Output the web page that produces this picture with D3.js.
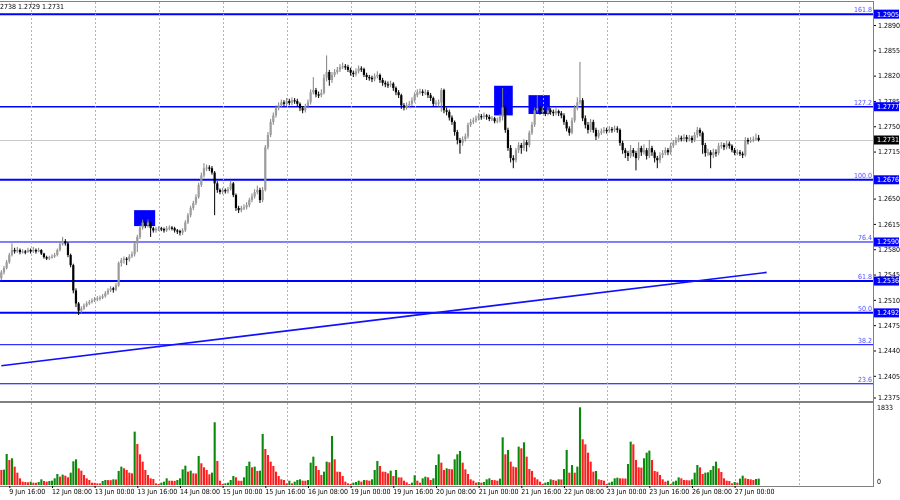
<!DOCTYPE html>
<html>
<head>
<meta charset="utf-8">
<script src="https://cdn.jsdelivr.net/npm/d3@7"></script>
<style>
  body { margin: 0; background: #fff; }
  svg text { font-family: "Liberation Sans Narrow", "DejaVu Sans Condensed", "Liberation Sans", sans-serif; font-size: 7px; }
</style>
</head>
<body>
<svg id="chart" width="900" height="500"></svg>
<script>
// H1 candles, 9 Jun 13:00 .. 27 Jun 09:00 (bar index 0..284)
const opens = [
  1.2540,1.2548,1.2554,1.2562,1.2572,1.2579,1.2577,1.2579,1.2576,1.2577,1.2576,1.2579,
  1.2577,1.2579,1.2577,1.2579,1.2574,1.2569,1.2567,1.2569,1.2570,1.2572,1.2579,1.2587,
  1.2591,1.2588,1.2572,1.2558,1.2523,1.2505,1.2495,1.2498,1.2502,1.2505,1.2507,1.2509,
  1.2511,1.2512,1.2513,1.2515,1.2519,1.2523,1.2526,1.2524,1.2530,1.2561,1.2565,1.2567,
  1.2566,1.2570,1.2573,1.2588,1.2597,1.2610,1.2617,1.2613,1.2617,1.2609,1.2606,1.2608,
  1.2609,1.2608,1.2606,1.2609,1.2610,1.2609,1.2606,1.2605,1.2603,1.2606,1.2617,1.2627,
  1.2637,1.2644,1.2652,1.2669,1.2682,1.2692,1.2693,1.2692,1.2686,1.2671,1.2662,1.2659,
  1.2662,1.2660,1.2663,1.2671,1.2655,1.2637,1.2634,1.2637,1.2638,1.2641,1.2648,1.2653,
  1.2659,1.2662,1.2648,1.2662,1.2721,1.2738,1.2756,1.2765,1.2775,1.2779,1.2783,1.2781,
  1.2785,1.2782,1.2786,1.2785,1.2781,1.2775,1.2772,1.2778,1.2783,1.2797,1.2800,1.2794,
  1.2793,1.2796,1.2817,1.2825,1.2814,1.2821,1.2825,1.2828,1.2832,1.2833,1.2832,1.2828,
  1.2824,1.2822,1.2826,1.2830,1.2829,1.2821,1.2818,1.2817,1.2815,1.2819,1.2821,1.2814,
  1.2810,1.2808,1.2807,1.2809,1.2803,1.2797,1.2793,1.2779,1.2776,1.2779,1.2781,1.2786,
  1.2793,1.2797,1.2798,1.2796,1.2797,1.2793,1.2789,1.2781,1.2782,1.2783,1.2800,1.2772,
  1.2770,1.2762,1.2756,1.2742,1.2731,1.2727,1.2732,1.2736,1.2752,1.2756,1.2758,1.2761,
  1.2764,1.2763,1.2765,1.2763,1.2760,1.2761,1.2757,1.2758,1.2763,1.2776,1.2745,1.2720,
  1.2706,1.2703,1.2717,1.2724,1.2720,1.2728,1.2724,1.2741,1.2752,1.2772,1.2775,1.2770,
  1.2772,1.2768,1.2772,1.2770,1.2768,1.2771,1.2768,1.2765,1.2756,1.2747,1.2741,1.2758,
  1.2775,1.2783,1.2786,1.2761,1.2752,1.2745,1.2756,1.2745,1.2736,1.2741,1.2743,1.2745,
  1.2744,1.2746,1.2745,1.2747,1.2745,1.2727,1.2717,1.2713,1.2709,1.2717,1.2713,1.2706,
  1.2720,1.2714,1.2717,1.2709,1.2720,1.2714,1.2706,1.2703,1.2710,1.2713,1.2717,1.2714,
  1.2723,1.2727,1.2731,1.2734,1.2732,1.2735,1.2732,1.2734,1.2731,1.2738,1.2745,1.2741,
  1.2724,1.2713,1.2714,1.2710,1.2714,1.2713,1.2723,1.2724,1.2721,1.2726,1.2723,1.2717,
  1.2713,1.2714,1.2712,1.2710,1.2731,1.2729,1.2731,1.2732,1.2734
];
const highs = [
  1.2551,1.2557,1.2565,1.2575,1.2588,1.2582,1.2583,1.2581,1.2580,1.2579,1.2582,1.2581,
  1.2583,1.2581,1.2582,1.2580,1.2575,1.2571,1.2571,1.2573,1.2575,1.2581,1.2590,1.2597,
  1.2594,1.2590,1.2574,1.2560,1.2526,1.2507,1.2501,1.2505,1.2508,1.2510,1.2512,1.2514,
  1.2515,1.2516,1.2518,1.2522,1.2526,1.2529,1.2528,1.2533,1.2563,1.2568,1.2570,1.2569,
  1.2573,1.2577,1.2591,1.2600,1.2613,1.2621,1.2620,1.2621,1.2619,1.2611,1.2611,1.2612,
  1.2611,1.2610,1.2612,1.2613,1.2612,1.2611,1.2608,1.2607,1.2609,1.2620,1.2630,1.2640,
  1.2647,1.2656,1.2672,1.2686,1.2699,1.2697,1.2696,1.2695,1.2688,1.2674,1.2664,1.2665,
  1.2664,1.2666,1.2675,1.2673,1.2657,1.2640,1.2640,1.2642,1.2645,1.2651,1.2657,1.2663,
  1.2668,1.2665,1.2666,1.2724,1.2742,1.2760,1.2769,1.2779,1.2783,1.2787,1.2786,1.2789,
  1.2788,1.2790,1.2789,1.2788,1.2783,1.2778,1.2781,1.2787,1.2801,1.2818,1.2803,1.2798,
  1.2801,1.2822,1.2848,1.2828,1.2825,1.2829,1.2832,1.2836,1.2838,1.2836,1.2835,1.2831,
  1.2827,1.2830,1.2834,1.2833,1.2831,1.2824,1.2821,1.2820,1.2823,1.2826,1.2823,1.2817,
  1.2813,1.2812,1.2813,1.2811,1.2805,1.2800,1.2795,1.2782,1.2783,1.2785,1.2790,1.2797,
  1.2801,1.2802,1.2801,1.2801,1.2800,1.2796,1.2791,1.2786,1.2787,1.2803,1.2802,1.2776,
  1.2773,1.2765,1.2758,1.2745,1.2734,1.2736,1.2740,1.2755,1.2760,1.2762,1.2765,1.2768,
  1.2767,1.2769,1.2767,1.2766,1.2764,1.2763,1.2762,1.2767,1.2803,1.2779,1.2748,1.2724,
  1.2710,1.2720,1.2728,1.2727,1.2732,1.2731,1.2744,1.2756,1.2776,1.2793,1.2778,1.2776,
  1.2775,1.2776,1.2775,1.2773,1.2775,1.2773,1.2771,1.2768,1.2759,1.2750,1.2762,1.2779,
  1.2790,1.2839,1.2789,1.2765,1.2756,1.2760,1.2759,1.2748,1.2745,1.2747,1.2749,1.2748,
  1.2750,1.2749,1.2751,1.2750,1.2747,1.2730,1.2720,1.2716,1.2724,1.2720,1.2716,1.2728,
  1.2723,1.2725,1.2720,1.2731,1.2723,1.2717,1.2709,1.2714,1.2717,1.2721,1.2720,1.2727,
  1.2731,1.2735,1.2738,1.2737,1.2739,1.2738,1.2738,1.2737,1.2742,1.2749,1.2748,1.2743,
  1.2727,1.2719,1.2717,1.2719,1.2718,1.2727,1.2728,1.2727,1.2730,1.2729,1.2725,1.2720,
  1.2718,1.2717,1.2715,1.2735,1.2734,1.2735,1.2736,1.2740,1.2738
];
const lows = [
  1.2537,1.2545,1.2552,1.2560,1.2570,1.2574,1.2575,1.2573,1.2574,1.2573,1.2575,1.2574,
  1.2575,1.2574,1.2576,1.2572,1.2567,1.2565,1.2565,1.2567,1.2568,1.2570,1.2577,1.2585,
  1.2585,1.2569,1.2555,1.2519,1.2500,1.2489,1.2492,1.2496,1.2500,1.2503,1.2505,1.2507,
  1.2508,1.2509,1.2511,1.2513,1.2517,1.2521,1.2520,1.2522,1.2528,1.2556,1.2560,1.2558,
  1.2563,1.2568,1.2570,1.2576,1.2594,1.2607,1.2609,1.2610,1.2597,1.2603,1.2603,1.2605,
  1.2605,1.2603,1.2604,1.2606,1.2606,1.2603,1.2601,1.2599,1.2600,1.2604,1.2615,1.2624,
  1.2634,1.2641,1.2650,1.2666,1.2679,1.2688,1.2688,1.2683,1.2627,1.2658,1.2656,1.2656,
  1.2657,1.2657,1.2661,1.2652,1.2633,1.2630,1.2631,1.2634,1.2635,1.2638,1.2645,1.2650,
  1.2656,1.2644,1.2645,1.2660,1.2718,1.2735,1.2752,1.2762,1.2772,1.2776,1.2778,1.2778,
  1.2779,1.2779,1.2781,1.2777,1.2771,1.2768,1.2769,1.2775,1.2780,1.2794,1.2790,1.2789,
  1.2790,1.2794,1.2812,1.2806,1.2810,1.2818,1.2822,1.2825,1.2829,1.2828,1.2825,1.2820,
  1.2818,1.2819,1.2823,1.2825,1.2818,1.2814,1.2813,1.2811,1.2812,1.2816,1.2810,1.2806,
  1.2804,1.2803,1.2804,1.2799,1.2793,1.2789,1.2774,1.2772,1.2773,1.2776,1.2778,1.2783,
  1.2790,1.2794,1.2792,1.2793,1.2789,1.2785,1.2777,1.2778,1.2777,1.2770,1.2768,1.2765,
  1.2758,1.2752,1.2737,1.2725,1.2712,1.2723,1.2729,1.2733,1.2749,1.2753,1.2755,1.2758,
  1.2759,1.2760,1.2759,1.2757,1.2757,1.2754,1.2754,1.2755,1.2758,1.2741,1.2716,1.2700,
  1.2692,1.2700,1.2713,1.2712,1.2716,1.2715,1.2721,1.2738,1.2749,1.2769,1.2766,1.2767,
  1.2764,1.2765,1.2766,1.2764,1.2765,1.2764,1.2761,1.2752,1.2743,1.2737,1.2739,1.2755,
  1.2772,1.2780,1.2757,1.2747,1.2740,1.2742,1.2741,1.2731,1.2733,1.2738,1.2740,1.2740,
  1.2741,1.2741,1.2742,1.2741,1.2723,1.2712,1.2706,1.2702,1.2706,1.2708,1.2689,1.2703,
  1.2709,1.2711,1.2704,1.2706,1.2709,1.2700,1.2692,1.2699,1.2706,1.2710,1.2710,1.2711,
  1.2720,1.2724,1.2728,1.2729,1.2729,1.2728,1.2729,1.2727,1.2728,1.2734,1.2736,1.2712,
  1.2708,1.2709,1.2692,1.2706,1.2708,1.2710,1.2719,1.2717,1.2718,1.2719,1.2714,1.2710,
  1.2710,1.2709,1.2706,1.2708,1.2725,1.2727,1.2728,1.2730,1.2729
];
const closes = [
  1.2548,1.2554,1.2562,1.2572,1.2579,1.2577,1.2579,1.2576,1.2577,1.2576,1.2579,1.2577,
  1.2579,1.2577,1.2579,1.2574,1.2569,1.2567,1.2569,1.2570,1.2572,1.2579,1.2587,1.2591,
  1.2588,1.2572,1.2558,1.2523,1.2505,1.2495,1.2498,1.2502,1.2505,1.2507,1.2509,1.2511,
  1.2512,1.2513,1.2515,1.2519,1.2523,1.2526,1.2524,1.2530,1.2561,1.2565,1.2567,1.2566,
  1.2570,1.2573,1.2588,1.2597,1.2610,1.2617,1.2613,1.2617,1.2609,1.2606,1.2608,1.2609,
  1.2608,1.2606,1.2609,1.2610,1.2609,1.2606,1.2605,1.2603,1.2606,1.2617,1.2627,1.2637,
  1.2644,1.2652,1.2669,1.2682,1.2692,1.2693,1.2692,1.2686,1.2671,1.2662,1.2659,1.2662,
  1.2660,1.2663,1.2671,1.2655,1.2637,1.2634,1.2637,1.2638,1.2641,1.2648,1.2653,1.2659,
  1.2662,1.2648,1.2662,1.2721,1.2738,1.2756,1.2765,1.2775,1.2779,1.2783,1.2781,1.2785,
  1.2782,1.2786,1.2785,1.2781,1.2775,1.2772,1.2778,1.2783,1.2797,1.2800,1.2794,1.2793,
  1.2796,1.2817,1.2825,1.2814,1.2821,1.2825,1.2828,1.2832,1.2833,1.2832,1.2828,1.2824,
  1.2822,1.2826,1.2830,1.2829,1.2821,1.2818,1.2817,1.2815,1.2819,1.2821,1.2814,1.2810,
  1.2808,1.2807,1.2809,1.2803,1.2797,1.2793,1.2779,1.2776,1.2779,1.2781,1.2786,1.2793,
  1.2797,1.2798,1.2796,1.2797,1.2793,1.2789,1.2781,1.2782,1.2783,1.2800,1.2772,1.2770,
  1.2762,1.2756,1.2742,1.2731,1.2727,1.2732,1.2736,1.2752,1.2756,1.2758,1.2761,1.2764,
  1.2763,1.2765,1.2763,1.2760,1.2761,1.2757,1.2758,1.2763,1.2776,1.2745,1.2720,1.2706,
  1.2703,1.2717,1.2724,1.2720,1.2728,1.2724,1.2741,1.2752,1.2772,1.2775,1.2770,1.2772,
  1.2768,1.2772,1.2770,1.2768,1.2771,1.2768,1.2765,1.2756,1.2747,1.2741,1.2758,1.2775,
  1.2783,1.2786,1.2761,1.2752,1.2745,1.2756,1.2745,1.2736,1.2741,1.2743,1.2745,1.2744,
  1.2746,1.2745,1.2747,1.2745,1.2727,1.2717,1.2713,1.2709,1.2717,1.2713,1.2706,1.2720,
  1.2714,1.2717,1.2709,1.2720,1.2714,1.2706,1.2703,1.2710,1.2713,1.2717,1.2714,1.2723,
  1.2727,1.2731,1.2734,1.2732,1.2735,1.2732,1.2734,1.2731,1.2738,1.2745,1.2741,1.2724,
  1.2713,1.2714,1.2710,1.2714,1.2713,1.2723,1.2724,1.2721,1.2726,1.2723,1.2717,1.2713,
  1.2714,1.2712,1.2710,1.2731,1.2729,1.2731,1.2732,1.2734,1.2731
];
const volumes = [
  354,362,732,590,630,433,291,157,79,71,63,79,
  55,52,71,134,94,79,94,102,157,260,197,244,
  220,181,291,559,606,394,338,236,157,118,55,52,
  39,38,94,118,116,114,134,130,331,433,394,354,
  291,275,1259,968,724,551,354,236,157,142,39,24,
  55,79,157,102,100,98,118,157,370,456,315,338,
  275,270,685,512,417,354,252,291,1480,567,102,24,
  39,55,118,212,181,102,98,181,449,551,417,433,
  331,338,1204,850,708,551,449,315,212,134,118,39,
  102,39,79,118,134,102,100,118,527,669,449,354,
  236,315,551,535,1157,606,315,310,212,79,39,24,
  55,71,102,79,118,114,102,134,354,567,449,315,
  310,275,338,212,354,181,178,102,63,24,55,228,
  102,55,157,197,181,118,157,472,724,527,354,394,
  378,370,606,724,803,527,370,260,134,102,55,71,
  55,71,134,157,118,114,102,150,1125,724,826,551,
  433,417,905,866,1007,669,378,331,181,134,79,24,
  55,71,134,118,102,134,130,378,826,291,472,291,
  433,1833,1078,960,763,551,315,331,134,118,102,24,
  55,79,157,173,157,155,153,496,1023,960,590,417,
  410,630,763,811,590,331,315,236,134,79,102,24,
  79,102,181,157,118,114,110,134,291,472,417,260,
  291,299,354,449,551,394,307,157,102,94,39,71,
  55,150,220,157,142,134,118,142,150
];

// time axis labels (bar index of each label)
const labelIdx = [3, 19, 35, 51, 67, 83, 99, 115, 131, 147, 163, 179, 195, 211, 227, 243, 259, 275];
const timeLabels = ['9 Jun 16:00', '12 Jun 08:00', '13 Jun 00:00', '13 Jun 16:00', '14 Jun 08:00',
  '15 Jun 00:00', '15 Jun 16:00', '16 Jun 08:00', '19 Jun 00:00', '19 Jun 16:00', '20 Jun 08:00',
  '21 Jun 00:00', '21 Jun 16:00', '22 Jun 08:00', '23 Jun 00:00', '23 Jun 16:00', '26 Jun 08:00',
  '27 Jun 00:00'];
// day separators (grid)
const gridIdx = [11, 35, 59, 83, 107, 131, 155, 179, 203, 227, 251, 275, 299];

// 1.2680 sits under the 1.2676 tag, so it is left out
const priceTicks = [1.2890, 1.2855, 1.2820, 1.2785, 1.2750, 1.2715, 1.2650, 1.2615,
  1.2580, 1.2545, 1.2510, 1.2475, 1.2440, 1.2405, 1.2375];

// fibonacci levels
const fibNames = ['161.8', '127.2', '100.0', '76.4', '61.8', '50.0', '38.2', '23.6'];
const fibPrices = [1.2905, 1.2777, 1.2676, 1.2590, 1.2536, 1.2492, 1.2448, 1.2394];
const fibTagged = [true, true, true, true, true, true, false, false];
const fibWidth = [2, 1.4, 2, 1, 2, 2, 1, 1];

// trend line (bar index, price)
const trendIdx = [0, 287];
const trendPrice = [1.2419, 1.2548];

// blue rectangles: start idx, end idx, top price, bottom price
const boxStart = [49.8, 184.8, 197.7];
const boxEnd = [57.7, 191.8, 205.7];
const boxTop = [1.2634, 1.2806, 1.2793];
const boxBottom = [1.2612, 1.2765, 1.2767];

const lastPrice = 1.2731;
const headerText = '1.2738 1.2729 1.2731';

// layout
const plotRight = 873;
const main = { top: 2, bottom: 401 };
const vol = { top: 403, bottom: 486 };

const svg = d3.select('#chart');

// Scales
const x = d3.scaleLinear().domain([0, 300]).range([1.3, 801.3]);
const y = d3.scaleLinear().domain([1.2375, 1.2890]).range([397.5, 25]);
const yVol = d3.scaleLinear().domain([0, 1833]).range([485, 407.3]);

const defs = svg.append('defs');
defs.append('clipPath').attr('id', 'clipMain')
  .append('rect').attr('x', 0).attr('y', main.top).attr('width', plotRight).attr('height', main.bottom - main.top);
defs.append('clipPath').attr('id', 'clipVol')
  .append('rect').attr('x', 0).attr('y', vol.top).attr('width', plotRight).attr('height', vol.bottom - vol.top);

const gMain = svg.append('g').attr('clip-path', 'url(#clipMain)');
const gVol = svg.append('g').attr('clip-path', 'url(#clipVol)');

// rectangles (background objects)
gMain.selectAll('rect.box')
  .data(boxStart)
  .join('rect')
    .attr('class', 'box')
    .attr('x', (d) => x(d))
    .attr('y', (d, i) => y(boxTop[i]))
    .attr('width', (d, i) => x(boxEnd[i]) - x(d))
    .attr('height', (d, i) => y(boxBottom[i]) - y(boxTop[i]))
    .attr('fill', '#0000ff');

// current price line
gMain.append('line')
  .attr('x1', 0).attr('x2', plotRight)
  .attr('y1', Math.round(y(lastPrice)) + 0.5).attr('y2', Math.round(y(lastPrice)) + 0.5)
  .attr('stroke', '#c8c8c8');

// fib lines
gMain.selectAll('line.fib')
  .data(fibPrices)
  .join('line')
    .attr('class', 'fib')
    .attr('x1', 0).attr('x2', plotRight)
    .attr('y1', (d) => y(d)).attr('y2', (d) => y(d))
    .attr('stroke', '#0000ff')
    .attr('stroke-width', (d, i) => fibWidth[i]);

gMain.selectAll('text.fibname')
  .data(fibPrices)
  .join('text')
    .attr('class', 'fibname')
    .attr('x', plotRight - 1)
    .attr('y', (d) => y(d) - 2)
    .attr('text-anchor', 'end')
    .attr('fill', '#5050ff')
    .text((d, i) => fibNames[i]);

// vertical grid (day separators), inverted over objects like MT4
const gridDrop = (g, top, bottom) => g.selectAll('line.grid')
  .data(gridIdx)
  .join('line')
    .attr('class', 'grid')
    .attr('x1', (d) => Math.round(x(d)) + 0.5).attr('x2', (d) => Math.round(x(d)) + 0.5)
    .attr('y1', top).attr('y2', bottom)
    .attr('stroke', '#b4b4b4')
    .attr('stroke-dasharray', '2,2')
    .style('mix-blend-mode', 'difference');

gridDrop(gMain, main.top, main.bottom);
gridDrop(gVol, vol.top, vol.bottom);

// trend line
gMain.append('line')
  .attr('x1', x(trendIdx[0])).attr('y1', y(trendPrice[0]))
  .attr('x2', x(trendIdx[1])).attr('y2', y(trendPrice[1]))
  .attr('stroke', '#1010ff')
  .attr('stroke-width', 1.6);

// candles
const idx = d3.range(closes.length);
const up = (i) => closes[i] >= opens[i];

gMain.selectAll('line.wick')
  .data(idx)
  .join('line')
    .attr('class', 'wick')
    .attr('x1', (i) => x(i)).attr('x2', (i) => x(i))
    .attr('y1', (i) => y(highs[i])).attr('y2', (i) => y(lows[i]))
    .attr('stroke', (i) => up(i) ? '#808080' : '#000')
    .attr('stroke-width', 1);

gMain.selectAll('rect.body')
  .data(idx)
  .join('rect')
    .attr('class', 'body')
    .attr('x', (i) => x(i) - 1.1)
    .attr('width', 2.2)
    .attr('y', (i) => y(Math.max(opens[i], closes[i])))
    .attr('height', (i) => Math.max(1.2, Math.abs(y(opens[i]) - y(closes[i]))))
    .attr('fill', (i) => up(i) ? '#9c9c9c' : '#000');

// volumes (green when rising, red when falling)
gVol.selectAll('rect.vol')
  .data(idx)
  .join('rect')
    .attr('class', 'vol')
    .attr('x', (i) => x(i) - 1)
    .attr('width', 2.1)
    .attr('y', (i) => yVol(volumes[i]))
    .attr('height', (i) => yVol(0) - yVol(volumes[i]))
    .attr('fill', (i) => (i > 0 && volumes[i] > volumes[i - 1]) ? '#0a8a0a' : '#ff1e1e');

// frame
const frame = svg.append('g').attr('stroke', '#808080').attr('fill', 'none');
frame.append('line').attr('x1', 0).attr('x2', plotRight).attr('y1', 1.5).attr('y2', 1.5);
frame.append('line').attr('x1', plotRight + 0.5).attr('x2', plotRight + 0.5).attr('y1', 1).attr('y2', vol.bottom);
frame.append('line').attr('x1', 0).attr('x2', plotRight).attr('y1', 402).attr('y2', 402).attr('stroke-width', 2);
frame.append('line').attr('x1', 0).attr('x2', plotRight + 1).attr('y1', vol.bottom + 0.5).attr('y2', vol.bottom + 0.5);

// axes styling
const styleAxis = (g) => {
  g.select('.domain').remove();
  g.selectAll('.tick line').attr('stroke', '#000');
  g.selectAll('.tick text').attr('fill', '#000').style('font-size', '7px')
    .style('font-family', '"Liberation Sans Narrow", "DejaVu Sans Condensed", "Liberation Sans", sans-serif');
};

// price axis
svg.append('g')
  .attr('transform', `translate(${plotRight + 1},0)`)
  .call(d3.axisRight(y).tickValues(priceTicks).tickSize(2).tickPadding(2).tickFormat(d3.format('.4f')))
  .call(styleAxis);

// volume axis
svg.append('g')
  .attr('transform', `translate(${plotRight + 1},0)`)
  .call(d3.axisRight(yVol).tickValues([1833]).tickSize(0).tickPadding(3).tickFormat(d3.format('d')))
  .call(styleAxis);

svg.append('text')
  .attr('x', plotRight + 4)
  .attr('y', yVol(0) - 3.5)
  .attr('dy', '0.32em')
  .text('0');

// time axis
svg.append('g')
  .attr('transform', `translate(0,${vol.bottom})`)
  .call(d3.axisBottom(x).tickValues(labelIdx).tickSize(2).tickPadding(1).tickFormat((d, i) => timeLabels[i]))
  .call(styleAxis)
  .call((g) => g.selectAll('.tick text').attr('text-anchor', 'start').attr('x', -0.5));

// price tags on the axis
const tags = svg.append('g');
fibPrices.forEach((p, i) => {
  if (!fibTagged[i]) return;
  tags.append('rect')
    .attr('x', plotRight + 1).attr('y', y(p) - 4.5)
    .attr('width', 25).attr('height', 9)
    .attr('fill', '#0000ff');
  tags.append('text')
    .attr('x', plotRight + 4).attr('y', y(p))
    .attr('dy', '0.35em')
    .attr('fill', '#fff')
    .text(d3.format('.4f')(p));
});
tags.append('rect')
  .attr('x', plotRight + 1).attr('y', y(lastPrice) - 4.5)
  .attr('width', 25).attr('height', 9)
  .attr('fill', '#000');
tags.append('text')
  .attr('x', plotRight + 4).attr('y', y(lastPrice))
  .attr('dy', '0.35em')
  .attr('fill', '#fff')
  .text(d3.format('.4f')(lastPrice));

// header (OHLC info, cut at left edge)
svg.append('text')
  .attr('x', -6)
  .attr('y', 9)
  .attr('fill', '#000')
  .text(headerText);
</script>
</body>
</html>
